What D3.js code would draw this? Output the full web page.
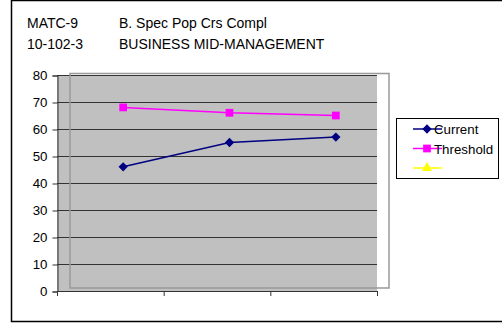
<!DOCTYPE html>
<html>
<head>
<meta charset="utf-8">
<script src="https://cdn.jsdelivr.net/npm/d3@7"></script>
<style>
  body { margin: 0; background: #fff; }
  svg { display: block; font-family: "Liberation Sans", Arial, sans-serif; }
</style>
</head>
<body>
<script>
var w = 502;
var h = 324;

// data
var categories = ["1", "2", "3"];
var current = [46, 55, 57];
var threshold = [68, 66, 65];
var yTicks = [0, 10, 20, 30, 40, 50, 60, 70, 80];
var titleCodes = ["MATC-9", "10-102-3"];
var titleNames = ["B. Spec Pop Crs Compl", "BUSINESS MID-MANAGEMENT"];
var seriesNames = ["Current", "Threshold", ""];

var svg = d3.select("body")
    .append("svg")
    .attr("width", w)
    .attr("height", h);

// outer frame
svg.append("rect")
    .attr("x", 11.5).attr("y", 0.5)
    .attr("width", w + 10).attr("height", 321)
    .attr("fill", "none")
    .attr("stroke", "#000")
    .attr("stroke-width", 1.5);

// title lines
titleCodes.forEach(function(t, i) {
    svg.append("text").attr("x", 27).attr("y", 28 + i * 20.5)
        .attr("font-size", 14).text(t);
    svg.append("text").attr("x", 119).attr("y", 28 + i * 20.5)
        .attr("font-size", 14).text(titleNames[i]);
});

var y = d3.scaleLinear()
    .domain([0, 80])
    .range([291, 75]);

// axis band (grey area) and the offset plot band where the points sit
var x = d3.scaleBand()
    .domain(categories)
    .range([57, 377]);

var xp = d3.scaleBand()
    .domain(categories)
    .range([70, 389]);

// grey plot area
svg.append("rect")
    .attr("x", x.range()[0]).attr("y", y(80))
    .attr("width", x.range()[1] - x.range()[0])
    .attr("height", y(0) - y(80))
    .attr("fill", "#c0c0c0");

// gridlines
svg.selectAll(".grid")
    .data(yTicks.slice(1))
    .enter()
    .append("line")
    .attr("x1", x.range()[0]).attr("x2", x.range()[1])
    .attr("y1", function(d) { return y(d) + 0.5; })
    .attr("y2", function(d) { return y(d) + 0.5; })
    .attr("stroke", "#333")
    .attr("stroke-width", 1);

// offset inner frame
svg.append("rect")
    .attr("x", xp.range()[0]).attr("y", 73.5)
    .attr("width", xp.range()[1] - xp.range()[0])
    .attr("height", 214.5)
    .attr("fill", "none")
    .attr("stroke", "#999")
    .attr("stroke-width", 1.5);

// y axis
var yAxis = d3.axisLeft(y)
    .tickValues(yTicks)
    .tickSize(5)
    .tickPadding(5);

var gy = svg.append("g")
    .attr("transform", "translate(" + (x.range()[0] + 0.5) + ",0.5)")
    .call(yAxis);
gy.select(".domain").attr("stroke", "#333");
gy.selectAll(".tick line").attr("stroke", "#333");
gy.selectAll("text")
    .attr("font-size", 13.3)
    .attr("font-family", "Liberation Sans, Arial, sans-serif")
    .attr("fill", "#000");

// x axis (ticks at category edges, no labels)
var edges = categories.map(function(c) { return x(c); }).concat([x.range()[1]]);
svg.append("line")
    .attr("x1", x.range()[0]).attr("x2", x.range()[1])
    .attr("y1", y(0) + 0.5).attr("y2", y(0) + 0.5)
    .attr("stroke", "#333");
svg.selectAll(".xtick")
    .data(edges)
    .enter()
    .append("line")
    .attr("x1", function(d) { return d + 0.5; })
    .attr("x2", function(d) { return d + 0.5; })
    .attr("y1", y(0)).attr("y2", y(0) + 5)
    .attr("stroke", "#333");

function px(d, i) { return xp(categories[i]) + xp.bandwidth() / 2; }

var line = d3.line()
    .x(px)
    .y(function(d) { return y(d); });

svg.append("path")
    .datum(threshold)
    .attr("d", line)
    .attr("fill", "none")
    .attr("stroke", "#ff00ff")
    .attr("stroke-width", 1.5);

svg.append("path")
    .datum(current)
    .attr("d", line)
    .attr("fill", "none")
    .attr("stroke", "#000080")
    .attr("stroke-width", 1.5);

var diamond = d3.symbol().type(d3.symbolDiamond2).size(55);
var square = d3.symbol().type(d3.symbolSquare).size(60);
var triangle = d3.symbol().type(d3.symbolTriangle).size(45);

svg.selectAll(".sq")
    .data(threshold)
    .enter()
    .append("path")
    .attr("d", square)
    .attr("transform", function(d, i) { return "translate(" + px(d, i) + "," + y(d) + ")"; })
    .attr("fill", "#ff00ff");

svg.selectAll(".dm")
    .data(current)
    .enter()
    .append("path")
    .attr("d", diamond)
    .attr("transform", function(d, i) { return "translate(" + px(d, i) + "," + y(d) + ")"; })
    .attr("fill", "#000080");

// legend
var legend = svg.append("g");
legend.append("rect")
    .attr("x", 396.5).attr("y", 118.5)
    .attr("width", 102).attr("height", 60)
    .attr("fill", "#fff")
    .attr("stroke", "#000")
    .attr("stroke-width", 1);

var legColors = ["#000080", "#ff00ff", "#ffff00"];
var legSymbols = [diamond, square, triangle];

seriesNames.forEach(function(name, i) {
    var ly = 129 + i * 19.5;
    legend.append("line")
        .attr("x1", 413).attr("x2", 442)
        .attr("y1", ly).attr("y2", ly)
        .attr("stroke", legColors[i])
        .attr("stroke-width", 1.5);
    legend.append("path")
        .attr("d", legSymbols[i])
        .attr("transform", "translate(427," + ly + ")")
        .attr("fill", legColors[i]);
    legend.append("text")
        .attr("x", 434).attr("y", ly + 5)
        .attr("font-size", 13.3)
        .text(name);
});
</script>
</body>
</html>
